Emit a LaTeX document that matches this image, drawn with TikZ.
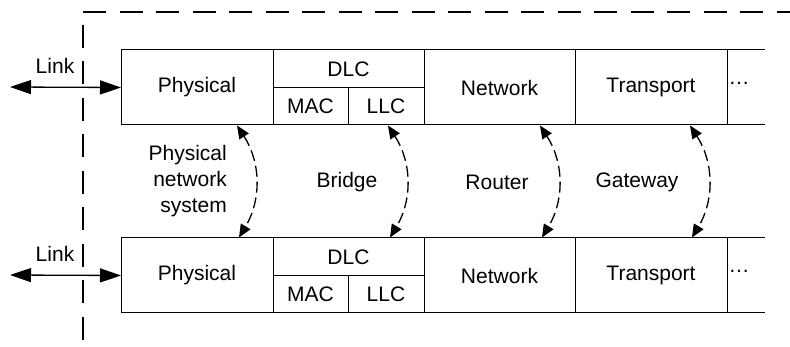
\documentclass[tikz,border=0pt]{standalone}
\usepackage{fontspec}
\setmainfont{Liberation Sans}
\usetikzlibrary{arrows.meta}
\begin{document}
\begin{tikzpicture}[x=1pt,y=-1pt,
  every node/.style={font=\fontsize{21}{26}\selectfont},
  layer/.style={draw, line width=1pt, inner sep=0pt, outer sep=0pt, anchor=north west},
  plain/.style={inner sep=0pt, outer sep=0pt, anchor=north west},
  linkarrow/.style={line width=1.3pt, {Triangle[length=21pt,width=14pt]}-{Triangle[length=21pt,width=14pt]}},
  peer/.style={line width=1.3pt, dash pattern=on 11pt off 5pt, {Triangle[length=13pt,width=11pt]}-{Triangle[length=13pt,width=11pt]}},
  boundary/.style={line width=1.2pt, dash pattern=on 23pt off 13.5pt},
  lbl/.style={inner sep=0pt, anchor=center}
]
\useasboundingbox (0,0) rectangle (790,347);

% boundary
\draw[boundary] (83,12) -- (790,12);
\draw[boundary] (83,25) -- (83,347);

% rows: y0 = top of row
\foreach \r/\y in {1/50, 2/238} {
  \node[layer, minimum width=152pt, minimum height=75pt] (phys\r) at (121,\y) {Physical};
  \node[layer, minimum width=151pt, minimum height=38pt] (dlc\r) at (273,\y) {DLC};
  \node[layer, minimum width=75pt, minimum height=37pt] (mac\r) at (273,\y+38) {MAC};
  \node[layer, minimum width=76pt, minimum height=37pt] (llc\r) at (348,\y+38) {LLC};
  \node[layer, minimum width=151pt, minimum height=75pt] (net\r) at (424,\y) {Network};
  \node[layer, minimum width=152pt, minimum height=75pt] (trans\r) at (575,\y) {Transport};
  \node[plain, minimum width=38pt, minimum height=75pt] (dots\r) at (727,\y) {};
  \node[lbl] at ([xshift=-7pt]dots\r.center) {\raisebox{0.35em}{…}};
  \draw[line width=1pt] (trans\r.north east) -- (dots\r.north east);
  \draw[line width=1pt] (trans\r.south east) -- (dots\r.south east);
  \coordinate (lend\r) at (10,\y+37);
  \draw[linkarrow] (lend\r) -- (phys\r.west);
  \node[lbl] (link\r) at (55,\y+16) {Link};
}

% peer connectors
\foreach \i/\x in {1/237, 2/388, 3/540, 4/690} {
  \coordinate (pt\i) at (\x,125.5);
  \coordinate (pb\i) at (\x+2,237.5);
  \draw[peer] (pt\i) to[bend left=32] (pb\i);
}

% labels
\node[lbl, align=right, anchor=east] (pns) at (227,181) {Physical\\network\\system};
\node[lbl] (bridge) at (347,182) {Bridge};
\node[lbl] (router) at (497,182) {Router};
\node[lbl] (gateway) at (637,182) {Gateway};
\end{tikzpicture}
\end{document}
